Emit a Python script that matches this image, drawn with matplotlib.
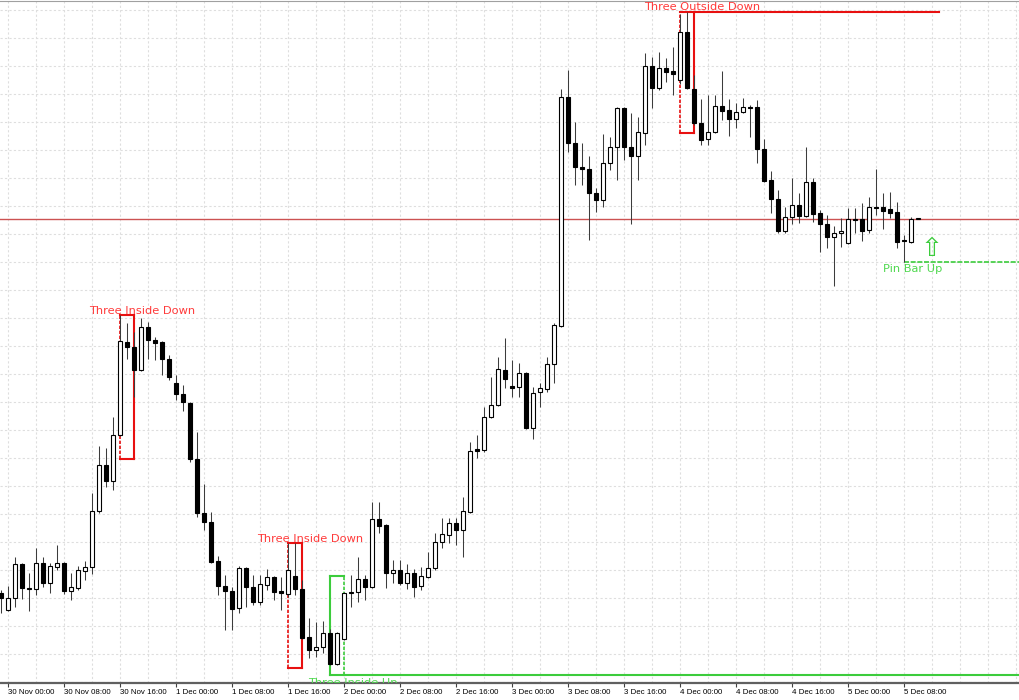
import matplotlib.pyplot as plt
import numpy as np

# hourly candles, 29 Nov 23:00 .. 5 Dec 10:00 (price in points)
opens = [107, 90, 102, 136, 112, 111, 137, 117, 133, 137, 109, 112, 129, 133, 189, 235, 219, 265, 358, 353,
         330, 373, 360, 358, 341, 317, 306, 297, 241, 187, 178, 139, 114, 109, 92, 132, 113, 98, 115, 123,
         109, 106, 124, 111, 63, 50, 53, 67, 36, 61, 107, 108, 121, 113, 181, 175, 127, 130, 117, 127,
         114, 123, 132, 158, 165, 177, 170, 188, 251, 250, 283, 295, 330, 314, 313, 327, 272, 308, 311, 336,
         374, 603, 557, 533, 531, 507, 500, 537, 553, 592, 553, 544, 567, 634, 612, 632, 629, 620, 668, 611,
         577, 561, 568, 594, 590, 581, 588, 593, 593, 551, 520, 501, 469, 483, 495, 484, 518, 487, 476, 463,
         467, 457, 481, 481, 470, 493, 493, 491, 488, 460, 458, 481]
highs = [110, 114, 143, 137, 127, 152, 143, 137, 155, 138, 127, 134, 139, 207, 254, 252, 283, 385, 377, 368,
         382, 378, 363, 359, 345, 325, 315, 298, 268, 216, 188, 144, 125, 113, 134, 133, 125, 125, 131, 124,
         123, 157, 157, 120, 82, 78, 79, 71, 68, 108, 125, 143, 125, 198, 198, 176, 140, 140, 136, 131,
         133, 148, 167, 182, 182, 182, 203, 258, 265, 293, 323, 343, 362, 340, 337, 328, 313, 317, 343, 377,
         611, 630, 578, 557, 544, 512, 566, 563, 593, 593, 587, 583, 647, 643, 648, 642, 653, 686, 688, 625,
         601, 605, 605, 629, 601, 597, 602, 595, 600, 561, 529, 510, 493, 522, 507, 553, 522, 490, 485, 474,
         482, 492, 492, 497, 503, 531, 507, 508, 498, 465, 483, 481]
lows = [87, 89, 93, 101, 89, 105, 113, 107, 130, 106, 100, 110, 120, 126, 187, 213, 210, 264, 341, 303,
        329, 341, 340, 325, 320, 300, 289, 238, 183, 170, 137, 105, 70, 70, 87, 93, 95, 95, 110, 100,
        90, 103, 105, 61, 42, 43, 47, 35, 35, 60, 93, 98, 100, 112, 167, 112, 117, 115, 111, 103,
        110, 122, 130, 152, 157, 155, 143, 187, 242, 248, 282, 294, 312, 303, 303, 271, 261, 293, 308, 317,
        373, 548, 515, 515, 460, 488, 493, 530, 520, 540, 476, 520, 555, 592, 610, 618, 605, 616, 611, 575,
        555, 555, 567, 580, 564, 572, 587, 563, 537, 518, 487, 467, 467, 476, 477, 483, 478, 448, 452, 414,
        453, 456, 467, 459, 467, 485, 471, 482, 452, 438, 457, 481]
closes = [102, 102, 136, 112, 111, 137, 117, 134, 137, 109, 113, 130, 133, 189, 235, 219, 265, 359, 353, 330,
          373, 360, 357, 341, 323, 306, 298, 241, 187, 178, 138, 114, 109, 91, 132, 113, 98, 116, 123, 108,
          107, 130, 111, 62, 50, 53, 67, 36, 67, 107, 108, 121, 113, 181, 174, 127, 130, 117, 127, 113,
          124, 132, 158, 166, 177, 170, 189, 249, 249, 283, 295, 331, 321, 312, 327, 272, 307, 312, 336, 375,
          603, 557, 533, 531, 507, 500, 537, 553, 592, 553, 544, 568, 634, 612, 632, 628, 626, 668, 612, 577,
          560, 568, 594, 589, 581, 588, 593, 592, 551, 519, 501, 469, 483, 495, 484, 518, 486, 476, 463, 467,
          469, 481, 480, 469, 493, 492, 489, 487, 458, 459, 481, 481]

tick_labels = ['30 Nov 00:00', '30 Nov 08:00', '30 Nov 16:00', '1 Dec 00:00', '1 Dec 08:00', '1 Dec 16:00',
               '2 Dec 00:00', '2 Dec 08:00', '2 Dec 16:00', '3 Dec 00:00', '3 Dec 08:00', '3 Dec 16:00',
               '4 Dec 00:00', '4 Dec 08:00', '4 Dec 16:00', '5 Dec 00:00', '5 Dec 08:00']

# detected patterns: name, first bar, last bar, box top, box bottom
pattern_names = ['Three Inside Down', 'Three Inside Down', 'Three Outside Down', 'Three Inside Up']
pattern_first = [17, 41, 97, 47]
pattern_last = [19, 43, 99, 49]
pattern_top = [385, 157, 688, 124]
pattern_bottom = [241, 32, 567, 25]
pattern_bullish = [False, False, False, True]
outside_line_end = 134
pin_bar = 129

RED = '#e81010'
RED_TXT = '#ff3a3a'
GREEN = '#3ccc3c'
GREEN_TXT = '#4fd84f'

o = np.array(opens, float)
h = np.array(highs, float)
l = np.array(lows, float)
c = np.array(closes, float)
x = np.arange(len(o))
up = c >= o

fig = plt.figure(figsize=(10.2, 7), dpi=100)
ax = fig.add_axes([0, 17 / 700, 1, 682 / 700])

ax.vlines(x, l, h, color='#3c3c3c', lw=0.75, zorder=4)
lo = np.minimum(o, c)
hgt = np.maximum(np.abs(c - o), 0.6)
ax.bar(x[up], hgt[up], bottom=lo[up], width=0.5, color='white', edgecolor='black', lw=0.8, zorder=5)
ax.bar(x[~up], hgt[~up], bottom=lo[~up], width=0.5, color='black', edgecolor='black', lw=0.8, zorder=5)

# bid line
ax.axhline(c[-1], color='#cc5252', lw=1.0, zorder=2)

# pattern boxes
for name, f, e, top, bot, bull in zip(pattern_names, pattern_first, pattern_last,
                                      pattern_top, pattern_bottom, pattern_bullish):
    col = GREEN if bull else RED
    ax.plot([f, e], [top, top], color=col, lw=1.5, zorder=3)
    ax.plot([f, e], [bot, bot], color=col, lw=1.5, zorder=3)
    if bull:
        ax.plot([f, f], [bot, top], color=col, lw=1.5, zorder=3)
        ax.plot([e, e], [bot, top], color=col, lw=1.2, ls=(0, (2, 1)), zorder=3)
        ax.plot([e, 150], [bot, bot], color=col, lw=1.5, zorder=3)
        ax.text(f + 3.2, bot - 3.5, name, color=GREEN_TXT, fontsize=8.2, ha='center', va='top',
                family='DejaVu Sans', clip_on=True, zorder=6)
    else:
        ax.plot([e, e], [bot, top], color=col, lw=1.5, zorder=3)
        ax.plot([f, f], [bot, top], color=col, lw=1.2, ls=(0, (2, 1)), zorder=3)
        ax.text(f + 3.2, top + 1.5, name, color=RED_TXT, fontsize=8.2, ha='center', va='baseline',
                family='DejaVu Sans', zorder=6)
        if name == 'Three Outside Down':
            ax.plot([e, outside_line_end], [top, top], color=col, lw=1.5, zorder=3)

# pin bar
ax.plot([pin_bar, 150], [l[pin_bar], l[pin_bar]], color=GREEN, lw=1.2, ls=(0, (3, 1)), zorder=3)
ax.text(pin_bar + 1.2, l[pin_bar] - 2.5, 'Pin Bar Up', color=GREEN_TXT, fontsize=8.2, ha='center',
        va='top', family='DejaVu Sans', zorder=6)
ax.text(pin_bar + 4, l[pin_bar] + 13, '\u21e7', color=GREEN, fontsize=19, ha='center', va='center',
        family='DejaVu Sans', zorder=6)

ax.set_xlim(-1 / 7, 1019 / 7)
ax.set_ylim(17, 699)

ax.set_xticks(np.arange(1, 1 + 8 * len(tick_labels), 8))
ax.set_xticklabels(tick_labels, fontsize=5.7, family='Liberation Sans', ha='left')
ax.set_xticks(np.arange(1, 146, 4), minor=True)
ax.set_yticks(np.arange(689.7, 17, -28))
ax.tick_params(axis='y', left=False, labelleft=False)
ax.tick_params(axis='x', which='major', length=3, width=0.8, color='#404040', pad=1)
ax.tick_params(axis='x', which='minor', length=0)
ax.grid(which='both', color='#dedede', ls=(0, (2, 2)), lw=0.8)
ax.set_axisbelow(True)

for s in ['left', 'right']:
    ax.spines[s].set_visible(False)
ax.spines['top'].set_color('#a0a0a0')
ax.spines['top'].set_linewidth(0.8)
ax.spines['bottom'].set_color('#606060')
ax.spines['bottom'].set_linewidth(1.6)

fig.savefig('out.png', dpi=100)
